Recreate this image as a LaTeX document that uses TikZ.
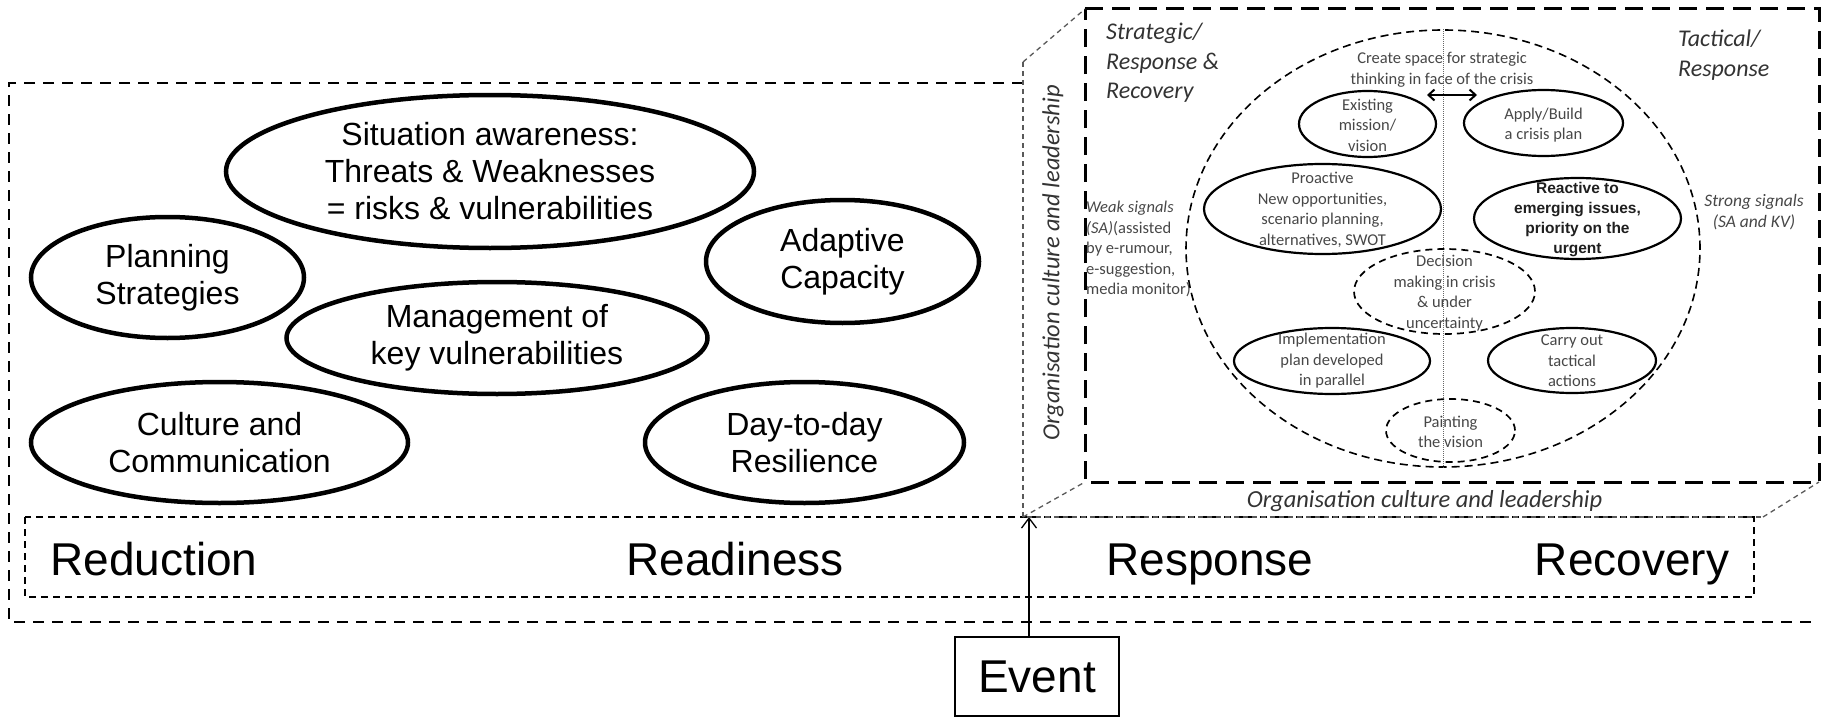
\documentclass[tikz,border=0pt]{standalone}
\usepackage{fontspec}
\setmainfont{Liberation Sans}
\newfontfamily\calfont{Carlito}
\usetikzlibrary{shapes.geometric,arrows.meta}

\begin{document}
\begin{tikzpicture}[x=1pt,y=-1pt,
  bigell/.style={draw, ellipse, line width=4.5pt, inner sep=0pt},
  bigtxt/.style={align=center, font=\fontsize{32}{37}\selectfont},
  smell/.style={draw, ellipse, line width=2.2pt, inner sep=0pt},
  smdash/.style={draw, ellipse, line width=1.7pt, inner sep=0pt, dash pattern=on 7pt off 5pt},
  smtxt/.style={align=center, inner sep=0pt, text=black!72, font=\calfont\fontsize{16.5}{20.5}\selectfont},
  boldtxt/.style={align=center, inner sep=0pt, text=black!88, font=\bfseries\fontsize{15.5}{20}\selectfont},
  phase/.style={anchor=base, inner sep=0pt, font=\fontsize{46}{50}\selectfont},
  title/.style={align=left, inner sep=0pt, text=black!80, font=\calfont\itshape\fontsize{24}{29.5}\selectfont},
  culture/.style={inner sep=0pt, text=black!80, font=\calfont\itshape\fontsize{24.5}{28}\selectfont},
  outerdash/.style={line width=2.4pt, dash pattern=on 11pt off 8pt},
  phasedash/.style={line width=1.5pt, dash pattern=on 7pt off 5pt},
  backdash/.style={line width=3pt, dash pattern=on 18pt off 9pt},
  frontdash/.style={line width=1.3pt, black!65, dash pattern=on 5pt off 4pt},
]
\useasboundingbox (0,0) rectangle (1821,717);

% ---------- outer frame and phase strip ----------
\coordinate (oTR) at (1023,83);
\coordinate (oTL) at (9,83);
\coordinate (oBL) at (9,622);
\coordinate (oBR) at (1815,622);
\draw[outerdash] (oTR) -- (oTL) -- (oBL) -- (oBR);

\coordinate (pTL) at (25,517);
\coordinate (pBR) at (1754,597);
\draw[phasedash] (pTL) rectangle (pBR);

\node[phase] (reduction) at (154,575) {Reduction};
\node[phase] (readiness) at (735,575) {Readiness};
\node[phase] (response)  at (1210,575) {Response};
\node[phase] (recovery)  at (1632,575) {Recovery};

% ---------- event ----------
\node[draw, line width=1.5pt, minimum width=164pt, minimum height=79pt, inner sep=0pt,
      font=\fontsize{46}{50}\selectfont] (event) at (1037,676.5) {Event};
\coordinate (evtip) at (1029,517);
\draw[line width=1.3pt, -{Straight Barb[length=10pt,width=15pt]}] (evtip |- event.north) -- (evtip);

% ---------- left-hand capabilities ----------
\node[bigell, minimum width=528pt, minimum height=153pt] (sa) at (490,171.5) {};
\node[bigtxt] (sa-t) at (sa) {Situation awareness:\\Threats \& Weaknesses\\= risks \& vulnerabilities};

\node[bigell, minimum width=273pt, minimum height=121pt] (plan) at (167.5,277.5) {};
\node[bigtxt] (plan-t) at (plan) {Planning\\Strategies};

\node[bigell, minimum width=421pt, minimum height=112pt] (mgmt) at (497,338) {};
\node[bigtxt] (mgmt-t) at (mgmt) {Management of\\key vulnerabilities};

\node[bigell, minimum width=377pt, minimum height=121pt] (cult) at (219.5,442.5) {};
\node[bigtxt] (cult-t) at (cult) {Culture and\\Communication};

\node[bigell, minimum width=273pt, minimum height=123pt] (adapt) at (842.5,261.5) {};
\node[bigtxt] (adapt-t) at (adapt) {Adaptive\\Capacity};

\node[bigell, minimum width=319pt, minimum height=121pt] (day) at (804.5,442.5) {};
\node[bigtxt] (day-t) at (day) {Day-to-day\\Resilience};

% ---------- crisis box (drawn in perspective) ----------
\coordinate (bTL) at (1085,9);
\coordinate (bTR) at (1819,9);
\coordinate (bBL) at (1085,482);
\coordinate (bBR) at (1819,482);
\draw[backdash] (bTL) -- (bTR) -- (bBR) -- (bBL) -- cycle;

\coordinate (fTL) at (1023,62);
\coordinate (fBL) at (1023,517);
\coordinate (fBR) at (1763,517);
\draw[frontdash] (fTL) -- (fBL) -- (fBR);
\draw[frontdash] (fTL) -- (bTL);
\draw[frontdash] (fBL) -- (bBL);
\draw[frontdash] (fBR) -- (bBR);

\node[culture, rotate=90] (org-v) at (1053,263) {Organisation culture and leadership};
\node[culture] (org-h) at (1424.5,501) {Organisation culture and leadership};

\node[title, anchor=west] (strat) at (1106,63) {Strategic/\\Response \&\\Recovery};
\node[title, anchor=west] (tact) at (1678,55) {Tactical/\\Response};

\node[smtxt, align=left, anchor=west] (weak) at (1086,249)
  {\textit{Weak signals}\\\textit{(SA)}(assisted\\by e-rumour,\\e-suggestion,\\media monitor)};
\node[smtxt, font=\calfont\itshape\fontsize{17.5}{21}\selectfont] (strong) at (1754,212.5)
  {Strong signals\\(SA and KV)};

% ---------- decision arena ----------
\node[draw, ellipse, inner sep=0pt, line width=1.6pt, dash pattern=on 8pt off 5pt,
      minimum width=514pt, minimum height=437pt] (arena) at (1443,248.5) {};
\draw[densely dotted, line width=1pt, black!60] (arena.north) -- (arena.south);

\node[smtxt] (space) at (1442,69.5) {Create space for strategic\\thinking in face of the crisis};
\coordinate (spL) at (1427,95);
\coordinate (spR) at (1477,95);
\draw[line width=2pt, {Straight Barb[length=6pt,width=11pt]}-{Straight Barb[length=6pt,width=11pt]}] (spL) -- (spR);

\node[smell, minimum width=137pt, minimum height=66pt] (exist) at (1367.5,124) {};
\node[smtxt] (exist-t) at (1367.5,125) {Existing\\mission/\\vision};

\node[smell, minimum width=159pt, minimum height=66pt] (apply) at (1543.5,123) {};
\node[smtxt] (apply-t) at (1543.5,125) {Apply/Build\\a crisis plan};

\node[smell, minimum width=237pt, minimum height=90pt] (proact) at (1322.5,209) {};
\node[smtxt] (proact-t) at (1322.5,210) {Proactive\\New opportunities,\\scenario planning,\\alternatives, SWOT};

\node[smell, minimum width=207pt, minimum height=81pt] (react) at (1577.5,218.5) {};
\node[boldtxt] (react-t) at (1577.5,220) {Reactive to\\emerging issues,\\priority on the\\urgent};

\node[smdash, minimum width=181pt, minimum height=85pt] (decide) at (1444.5,291.5) {};
\node[smtxt] (decide-t) at (1444.5,293) {Decision\\making in crisis\\\& under\\uncertainty};

\node[smell, minimum width=196pt, minimum height=66pt] (impl) at (1332,361) {};
\node[smtxt] (impl-t) at (1332,361) {Implementation\\plan developed\\in parallel};

\node[smell, minimum width=168pt, minimum height=65pt] (carry) at (1572,360.5) {};
\node[smtxt] (carry-t) at (1572,361) {Carry out\\tactical\\actions};

\node[smdash, minimum width=129pt, minimum height=63pt] (paint) at (1450.5,430.5) {};
\node[smtxt] (paint-t) at (1450.5,432) {Painting\\the vision};

\end{tikzpicture}
\end{document}
